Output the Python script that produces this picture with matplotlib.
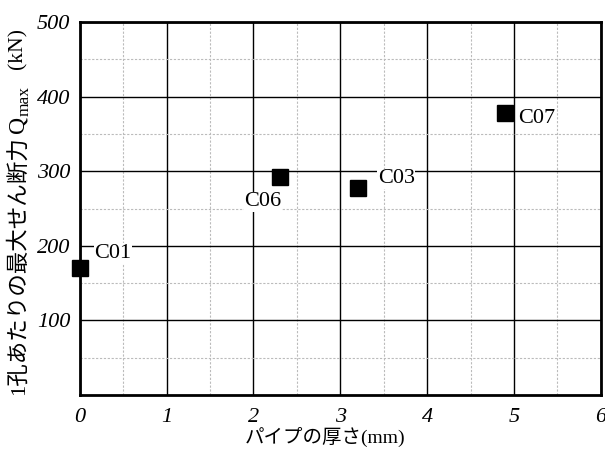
import matplotlib
matplotlib.use("Agg")
import matplotlib.pyplot as plt
from matplotlib.ticker import MultipleLocator

plt.rcParams['font.family'] = ['Liberation Serif', 'Noto Sans CJK JP', 'DejaVu Sans']

names = ["C01", "C06", "C03", "C07"]
thickness = [0.0, 2.3, 3.2, 4.9]
qmax = [170, 293, 277, 378]
label_pos = [(0.17, 190, 'left'), (2.11, 259, 'center'), (3.43, 290, 'left'), (5.05, 371, 'left')]
xticks = [0, 1, 2, 3, 4, 5, 6]
yticks = [100, 200, 300, 400, 500]

fig = plt.figure(figsize=(6.05, 4.51), dpi=100)
ax = fig.add_axes([0.132, 0.124, 0.861, 0.827])
ax.set_xlim(0, 6)
ax.set_ylim(0, 500)
ax.xaxis.set_minor_locator(MultipleLocator(0.5))
ax.yaxis.set_minor_locator(MultipleLocator(50))
ax.set_xticks(xticks, labels=[str(v) for v in xticks], fontstyle='italic', fontsize=16,
              family='Liberation Serif')
ax.set_yticks(yticks, labels=[str(v) for v in yticks], fontstyle='italic', fontsize=16,
              family='Liberation Serif')
ax.grid(which='major', color='black', linewidth=1.0, zorder=0)
ax.grid(which='minor', color='#bbbbbb', linewidth=0.8, linestyle=(0, (2, 1.5)), zorder=0)
ax.set_axisbelow(True)
ax.tick_params(which='both', length=0)
ax.tick_params(axis='y', pad=7)
ax.tick_params(axis='x', pad=9)
for s in ax.spines.values():
    s.set_linewidth(2)
    s.set_zorder(5)

ax.plot(thickness, qmax, 's', color='black', markersize=12, linestyle='none', zorder=4, clip_on=False)
for n, (lx, ly, ha) in zip(names, label_pos):
    ax.text(lx, ly, n, fontsize=16, ha=ha, va='center', zorder=3,
            bbox=dict(facecolor='white', edgecolor='none', pad=0.5))

ax.set_xlabel("パイプの厚さ(mm)", fontsize=14)
ax.xaxis.set_label_coords(0.47, -0.085)

# y label built from pieces (CJK text + Q with subscript max)
fs = 16.2
t1 = fig.text(0.03, 0.124, "1孔あたりの最大せん断力", rotation=90, ha='center', va='bottom',
              fontsize=fs)
t2 = ax.annotate("Q", xy=(0.5, 1.0), xycoords=t1, xytext=(0, 2.5), textcoords='offset points',
                 ha='center', va='bottom', rotation=90,
                 fontsize=17, family='Liberation Serif', annotation_clip=False)
t3 = ax.annotate("max", xy=(1.0, 1.0), xycoords=t2, xytext=(3, 0), textcoords='offset points',
                 ha='right', va='bottom', rotation=90, fontsize=12.5, family='Liberation Serif',
                 annotation_clip=False)
t5 = ax.annotate("(kN)", xy=(0.5, 1.0), xycoords=(t1, t3), xytext=(0, 12),
                 textcoords='offset points', ha='center', va='bottom', rotation=90,
                 fontsize=15.6, family='Liberation Serif', annotation_clip=False)

fig.savefig("out.png", dpi=100)
